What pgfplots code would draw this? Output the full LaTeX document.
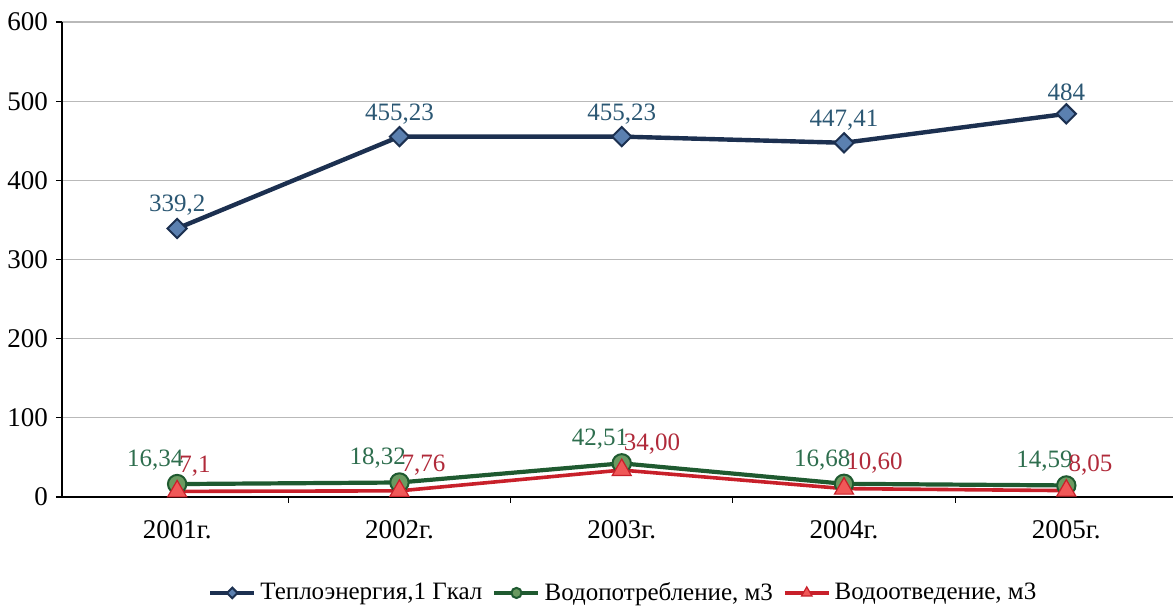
\documentclass[border=0pt]{standalone}
\usepackage{fontspec}
\setmainfont{Liberation Serif}
\usepackage{pgfplots}
\pgfplotsset{compat=1.18}
\definecolor{tepLine}{HTML}{1C3050}
\definecolor{tepFill}{HTML}{5B80B0}
\definecolor{tepText}{HTML}{2B5773}
\definecolor{vpLine}{HTML}{1F5A30}
\definecolor{vpFill}{HTML}{6A9A60}
\definecolor{vpText}{HTML}{2E6E4E}
\definecolor{voLine}{HTML}{C8202A}
\definecolor{voFill}{HTML}{F05858}
\definecolor{voText}{HTML}{B02A3A}
\begin{document}
\begin{tikzpicture}
\begin{axis}[
  scale only axis, width=555.5pt, height=237.5pt,
  xmin=-0.518, xmax=4.48, ymin=0, ymax=600,
  axis lines*=left,
  axis line style={black, line width=0.8pt},
  ytick={0,100,...,600},
  xtick={0,1,2,3,4},
  xticklabels={2001г.,2002г.,2003г.,2004г.,2005г.},
  minor xtick={0.5,1.5,2.5,3.5},
  tick align=outside,
  major tick length=3pt, minor tick length=3pt,
  major x tick style={draw=none},
  tick style={black, line width=0.6pt},
  ymajorgrids,
  major grid style={gray!55, line width=0.6pt},
  /pgf/number format/assume math mode=true,
  ticklabel style={font=\fontsize{13.5}{15}\selectfont},
  xticklabel style={yshift=-5pt},
  yticklabel style={xshift=-0.5pt},
  clip=false,
  legend style={at={(0.506,-0.202)}, anchor=center, draw=none, fill=none,
    font=\fontsize{12.5}{14}\selectfont, legend columns=-1,
    /tikz/every even column/.append style={column sep=3pt}},
  legend image code/.code={
    \draw[every mark/.append style={scale=0.55}, mark repeat=2, mark phase=2]
      plot coordinates {(0pt,0pt) (11pt,0pt) (22pt,0pt)};},
  nodes near coords,
  point meta=explicit symbolic,
]
\addplot[tepLine, line width=2.2pt,
  mark=square*, mark size=3.4pt,
  mark options={rotate=45, fill=tepFill, draw=tepLine, line width=1pt},
  nodes near coords style={font=\fontsize{12.5}{14}\selectfont, text=tepText, anchor=south, yshift=2.5pt}]
  coordinates {(0,339.2)[339,2] (1,455.23)[455,23] (2,455.23)[455,23] (3,447.41)[447,41] (4,484)[484]};
\addlegendentry{Теплоэнергия,1 Гкал}
\addplot[vpLine, line width=2.1pt,
  mark=*, mark size=4.6pt,
  mark options={fill=vpFill, draw=vpLine, line width=1pt},
  nodes near coords style={font=\fontsize{12.5}{14}\selectfont, text=vpText, anchor=south east, xshift=7pt, yshift=3pt}]
  coordinates {(0,16.34)[16,34] (1,18.32)[18,32] (2,42.51)[42,51] (3,16.68)[16,68] (4,14.59)[14,59]};
\addlegendentry{Водопотребление, м3}
\addplot[voLine, line width=1.8pt,
  mark=triangle*, mark size=5.5pt,
  mark options={fill=voFill, draw=voLine, line width=0.6pt},
  nodes near coords style={font=\fontsize{12.5}{14}\selectfont, text=voText, anchor=south west, xshift=-2.5pt, yshift=4pt}]
  coordinates {(0,7.1)[7,1] (1,7.76)[7,76] (2,34.00)[34,00] (3,10.60)[10,60] (4,8.05)[8,05]};
\addlegendentry{Водоотведение, м3}
\end{axis}
\pgfresetboundingbox
\path[use as bounding box] (-31pt,-56pt) rectangle (555.5pt,248.5pt);
\end{tikzpicture}
\end{document}
